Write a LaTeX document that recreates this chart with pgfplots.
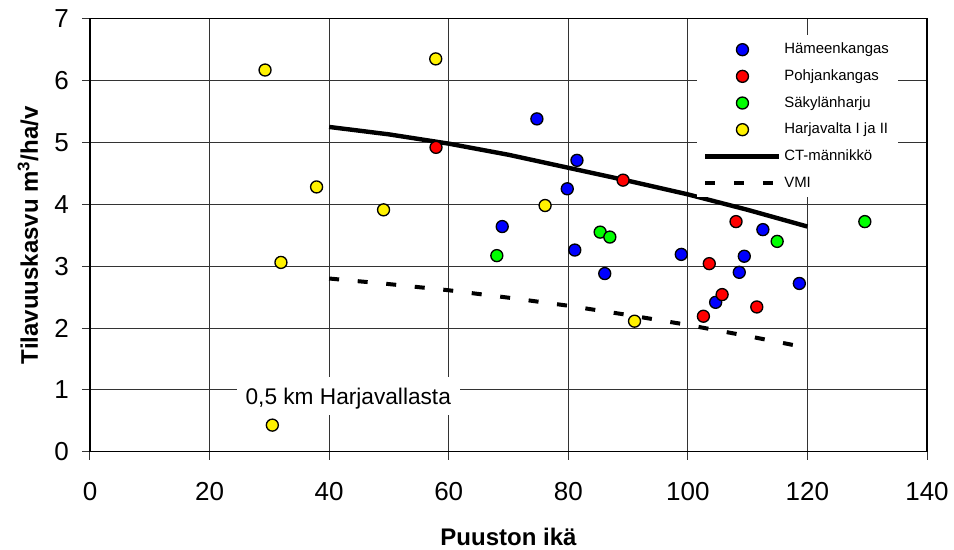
\documentclass[border=0pt]{standalone}
\usepackage{fontspec}
\setmainfont{Liberation Sans}
\usepackage{pgfplots}
\pgfplotsset{compat=1.18}
\begin{document}
\begin{tikzpicture}
\useasboundingbox (-67.5pt,-73.7pt) rectangle (648pt,338.8pt);
\begin{axis}[
  scale only axis, width=627.75pt, height=324.8pt,
  xmin=0, xmax=140, ymin=0, ymax=7,
  xtick={0,20,...,140}, ytick={0,1,...,7},
  grid=major, major grid style={black!80, line width=0.75pt},
  axis line style={black, line width=1pt},
  tick style={black!80, line width=0.75pt},
  tick align=outside, major tick length=6pt,
  xtick pos=left, ytick pos=left,
  /pgf/number format/assume math mode=true,
  ticklabel style={font=\fontsize{19.5pt}{23pt}\selectfont},
  xticklabel style={anchor=north, inner sep=0pt, yshift=-16.5pt},
  yticklabel style={anchor=east, inner sep=0pt, xshift=-9.75pt},
  xlabel={\textbf{Puuston ikä}}, ylabel={\textbf{Tilavuuskasvu m\textsuperscript{3}/ha/v}},
  every axis x label/.style={at={(axis description cs:0.5,-0.197)}, anchor=center, font=\fontsize{18pt}{21pt}\selectfont},
  every axis y label/.style={at={(axis description cs:-0.0741,0.5)}, anchor=center, rotate=90, font=\fontsize{18pt}{21pt}\selectfont},
  legend style={at={(axis description cs:0.7252,0.9621)}, anchor=north west, draw=none, fill=white,
    font=\fontsize{11.2pt}{13pt}\selectfont, row sep=0pt, inner xsep=4.5pt, inner ysep=0.75pt,
    nodes={inner xsep=2pt, inner ysep=0pt, text height=13pt, text depth=7pt}},
  legend cell align=left,
  legend image code/.code={\draw[mark repeat=2, mark phase=2, #1] plot coordinates {(0pt,0pt) (27.75pt,0pt) (55.5pt,0pt)};},
]
\addlegendimage{only marks, mark=*, mark size=4.5pt, mark options={fill=blue, draw=black, line width=1pt}}
\addlegendentry{Hämeenkangas}
\addlegendimage{only marks, mark=*, mark size=4.5pt, mark options={fill=red, draw=black, line width=1pt}}
\addlegendentry{Pohjankangas}
\addlegendimage{only marks, mark=*, mark size=4.5pt, mark options={fill=green, draw=black, line width=1pt}}
\addlegendentry{Säkylänharju}
\addlegendimage{only marks, mark=*, mark size=4.5pt, mark options={fill=yellow, draw=black, line width=1pt}}
\addlegendentry{Harjavalta I ja II}
\addlegendimage{black, line width=3.3pt}
\addlegendentry{CT-männikkö}
\addlegendimage{black, line width=3pt, dash pattern=on 7.5pt off 14pt}
\addlegendentry{VMI}

\node[fill=white, inner xsep=6.75pt, inner ysep=0pt, minimum height=28.5pt, text height=12.3pt, text depth=0pt, font=\fontsize{17pt}{20pt}\selectfont] at (axis cs:43.2,0.9) {0,5 km Harjavallasta};

\addplot[forget plot, black, line width=3.3pt, no marks] coordinates {
(40,5.25) (50,5.13) (60,4.98) (70,4.80) (80,4.59) (90,4.38) (100,4.16) (110,3.91) (120,3.64)};
\addplot[forget plot, black, line width=3pt, dash pattern=on 7.5pt off 14pt, no marks] coordinates {
(40,2.80) (50,2.71) (60,2.61) (70,2.49) (80,2.36) (90,2.21) (100,2.05) (110,1.87) (120,1.68)};

\addplot[forget plot, only marks, mark=*, mark size=4.5pt, mark options={fill=blue, draw=black, line width=1pt}] coordinates {
(68.95,3.64) (74.75,5.38) (79.83,4.25) (81.09,3.26) (81.45,4.71) (86.1,2.88) (98.9,3.19) (104.65,2.415) (108.6,2.90) (109.44,3.16) (112.55,3.59) (118.65,2.72)};
\addplot[forget plot, only marks, mark=*, mark size=4.5pt, mark options={fill=red, draw=black, line width=1pt}] coordinates {
(57.88,4.92) (89.16,4.39) (102.6,2.19) (103.58,3.04) (105.73,2.54) (108.06,3.72) (111.53,2.34)};
\addplot[forget plot, only marks, mark=*, mark size=4.5pt, mark options={fill=green, draw=black, line width=1pt}] coordinates {
(68.05,3.17) (85.33,3.55) (86.95,3.47) (114.94,3.40) (129.6,3.72)};
\addplot[forget plot, only marks, mark=*, mark size=4.5pt, mark options={fill=yellow, draw=black, line width=1pt}] coordinates {
(29.28,6.17) (30.5,0.43) (31.94,3.06) (37.9,4.28) (49.1,3.91) (57.83,6.35) (76.12,3.98) (91.08,2.11)};
\end{axis}
\end{tikzpicture}
\end{document}
